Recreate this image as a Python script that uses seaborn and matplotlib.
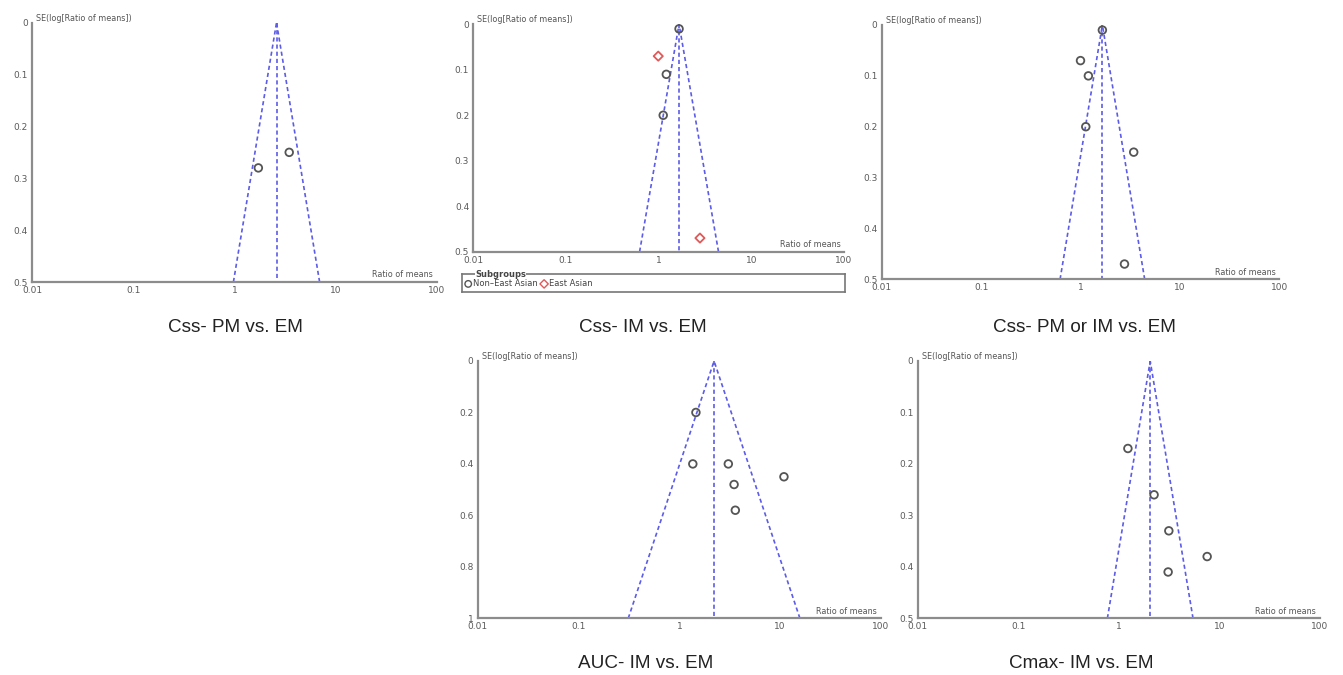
import numpy as np
import pandas as pd
import seaborn as sns
import matplotlib.pyplot as plt
import matplotlib.ticker as mticker

# Datos (ratio of means, SE del log)
css_pm_ratio = [1.72, 3.47]
css_pm_se = [0.28, 0.25]
css_pm_pooled = 2.6

css_im_ratio = [1.66, 1.21, 1.12, 0.99, 2.79]
css_im_se = [0.01, 0.11, 0.20, 0.07, 0.47]
css_im_group = ['Non-East Asian', 'Non-East Asian', 'Non-East Asian', 'East Asian', 'East Asian']
css_im_pooled = 1.66

css_all_ratio = [1.66, 1.00, 1.20, 1.13, 3.43, 2.77]
css_all_se = [0.01, 0.07, 0.10, 0.20, 0.25, 0.47]
css_all_pooled = 1.66

auc_ratio = [1.46, 1.36, 3.06, 10.9, 3.49, 3.59]
auc_se = [0.20, 0.40, 0.40, 0.45, 0.48, 0.58]
auc_pooled = 2.21

cmax_ratio = [1.23, 2.24, 3.14, 7.55, 3.09]
cmax_se = [0.17, 0.26, 0.33, 0.38, 0.41]
cmax_pooled = 2.05

x_ticks = [0.01, 0.1, 1, 10, 100]
x_tick_labels = ['0.01', '0.1', '1', '10', '100']

sns.set_style('white')
plt.rcParams['font.family'] = ['DejaVu Sans']

W, H = 1343, 675
fig = plt.figure(figsize=(W / 100, H / 100), dpi=100)

GRIS = '#8c8c8c'
AZUL = '#5c5ce8'
PUNTO = '#555555'
ROJO = '#e05a5a'


def rect(x0, y0, x1, y1):
    # convierte pixeles a fracciones de figura
    return [x0 / W, 1 - y1 / H, (x1 - x0) / W, (y1 - y0) / H]


def funnel(pos, ratio, se, pooled, se_max, y_ticks, group=None):
    ax = fig.add_axes(rect(*pos))
    df = pd.DataFrame({'ratio': ratio, 'se': se})
    if group is None:
        sns.scatterplot(data=df, x='ratio', y='se', ax=ax, marker='o', s=30,
                        facecolor='none', edgecolor=PUNTO, linewidth=1.3, zorder=3)
    else:
        df['grupo'] = group
        for g, m, c in [('Non-East Asian', 'o', PUNTO), ('East Asian', 'D', ROJO)]:
            sub = df[df['grupo'] == g]
            sns.scatterplot(data=sub, x='ratio', y='se', ax=ax, marker=m,
                            s=30 if m == 'o' else 22, facecolor='none',
                            edgecolor=c, linewidth=1.3, zorder=3)
    # lineas del embudo (IC 95%)
    lp = np.log(pooled)
    lo = np.exp(lp - 1.96 * se_max)
    hi = np.exp(lp + 1.96 * se_max)
    kw = dict(color=AZUL, lw=1.2, ls=(0, (2.5, 1.8)), zorder=2)
    ax.plot([pooled, pooled], [0, se_max], **kw)
    ax.plot([lo, pooled], [se_max, 0], **kw)
    ax.plot([hi, pooled], [se_max, 0], **kw)

    ax.set_xscale('log')
    ax.set_xlim(0.01, 100)
    ax.set_ylim(se_max, 0)
    ax.xaxis.set_major_locator(mticker.FixedLocator(x_ticks))
    ax.set_xticklabels(x_tick_labels)
    ax.xaxis.set_minor_locator(mticker.NullLocator())
    ax.set_yticks(y_ticks)
    ax.set_yticklabels([('%g' % t) for t in y_ticks])
    ax.set_xlabel('')
    ax.set_ylabel('')
    for s in ['top', 'right']:
        ax.spines[s].set_visible(False)
    for s in ['left', 'bottom']:
        ax.spines[s].set_color(GRIS)
        ax.spines[s].set_linewidth(1.6)
    ax.tick_params(axis='both', direction='inout', length=5, width=1.2,
                   color=GRIS, labelsize=6.5, labelcolor='#5a5a5a', pad=0.5)
    ax.patch.set_alpha(0)
    ax.text(0.01, 1.0, 'SE(log[Ratio of means])', transform=ax.transAxes,
            fontsize=5.8, color='#555555', ha='left', va='bottom')
    ax.text(0.99, 0.01, 'Ratio of means', transform=ax.transAxes,
            fontsize=5.8, color='#555555', ha='right', va='bottom')
    return ax


funnel((32, 22.7, 437, 282), css_pm_ratio, css_pm_se, css_pm_pooled, 0.5,
       [0, 0.1, 0.2, 0.3, 0.4, 0.5])
funnel((473.3, 24.3, 844, 251.7), css_im_ratio, css_im_se, css_im_pooled, 0.5,
       [0, 0.1, 0.2, 0.3, 0.4, 0.5], group=css_im_group)
funnel((881.7, 25, 1279.3, 279.3), css_all_ratio, css_all_se, css_all_pooled, 0.5,
       [0, 0.1, 0.2, 0.3, 0.4, 0.5])
funnel((477.7, 361, 881, 618.3), auc_ratio, auc_se, auc_pooled, 1.0,
       [0, 0.2, 0.4, 0.6, 0.8, 1])
funnel((917.7, 361, 1320, 618.3), cmax_ratio, cmax_se, cmax_pooled, 0.5,
       [0, 0.1, 0.2, 0.3, 0.4, 0.5])

# Leyenda de subgrupos (panel Css- IM)
lax = fig.add_axes(rect(461.7, 274, 845, 292))
lax.set_xlim(0, 1)
lax.set_ylim(0, 1)
lax.set_xticks([])
lax.set_yticks([])
for s in lax.spines.values():
    s.set_color('#777777')
    s.set_linewidth(1.2)
lax.scatter([0.017], [0.45], marker='o', s=22, facecolor='none', edgecolor=PUNTO, linewidth=1.0)
lax.text(0.030, 0.45, 'Non\u2013East Asian', fontsize=6, color='#444444', va='center', ha='left')
lax.scatter([0.215], [0.45], marker='D', s=18, facecolor='none', edgecolor=ROJO, linewidth=1.0)
lax.text(0.229, 0.45, 'East Asian', fontsize=6, color='#444444', va='center', ha='left')
lax.text(0.035, 1.0, 'Subgroups', fontsize=6, fontweight='bold', color='#444444',
         va='center', ha='left', bbox=dict(facecolor='white', edgecolor='none', pad=0.3))

# Titulos de cada panel
cap = dict(fontsize=13.6, color='#222222', ha='center', va='center',
           family=['Liberation Sans', 'DejaVu Sans'])
fig.text(235 / W, 1 - 328 / H, 'Css- PM vs. EM', **cap)
fig.text(643 / W, 1 - 327 / H, 'Css- IM vs. EM', **cap)
fig.text(1084 / W, 1 - 328 / H, 'Css- PM or IM vs. EM', **cap)
fig.text(646 / W, 1 - 663 / H, 'AUC- IM vs. EM', **cap)
fig.text(1081 / W, 1 - 663 / H, 'Cmax- IM vs. EM', **cap)

fig.savefig('out.png', dpi=100)
